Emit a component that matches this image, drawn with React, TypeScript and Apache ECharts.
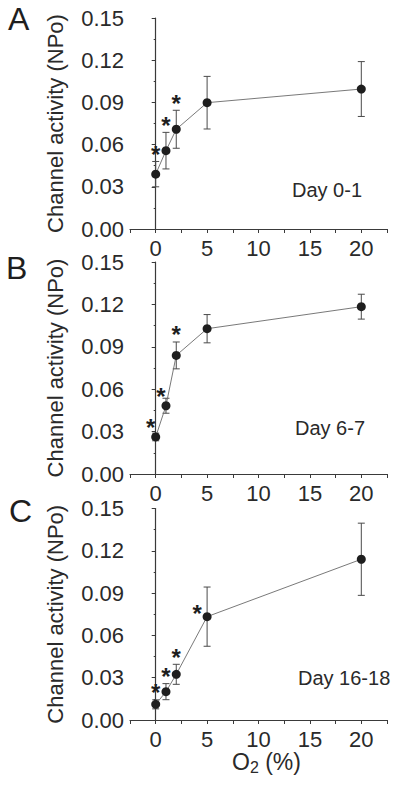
import React, { useEffect, useRef } from "react";
import * as echarts from "echarts";

// ---- data ----
const o2Levels = [0, 1, 2, 5, 20];

const day01Mean = [0.039, 0.0557, 0.0709, 0.0898, 0.0995];
const day01Err = [0.009, 0.013, 0.0135, 0.0187, 0.0195];
const day01Sig = [true, true, true, false, false];

const day67Mean = [0.0262, 0.0483, 0.0839, 0.1028, 0.1184];
const day67Err = [0.0027, 0.0053, 0.0095, 0.01, 0.0088];
const day67Sig = [true, true, true, false, false];

const day1618Mean = [0.0111, 0.0201, 0.0324, 0.0733, 0.114];
const day1618Err = [0.0032, 0.0057, 0.0071, 0.021, 0.0256];
const day1618Sig = [true, true, true, true, false];

const yTicks = [0, 0.03, 0.06, 0.09, 0.12, 0.15];
const xTickLabels = [0, 5, 10, 15, 20];

const panelLetters = ["A", "B", "C"];
const dayLabels = ["Day 0-1", "Day 6-7", "Day 16-18"];
const yAxisTitle = "Channel activity (NPo)";

// ---- layout / style ----
const FONT = "Liberation Sans, Arial, Helvetica, sans-serif";
const grids = [
  { left: 130, top: 18, width: 257, height: 211 },
  { left: 130, top: 262, width: 257, height: 212 },
  { left: 130, top: 508.5, width: 257, height: 211.5 },
];
// star placement per point: 'top' above the error bar, 'upleft' / 'left' beside the marker
const starPlacement = [
  ["top", "top", "top", "", ""],
  ["upleft", "upleft", "top", "", ""],
  ["top", "top", "top", "left", ""],
];
const dayLabelPos = [
  { x: 292, y: 190 },
  { x: 295, y: 428 },
  { x: 298, y: 678 },
];
const letterPos = [
  { x: 8, y: 20 },
  { x: 6, y: 269 },
  { x: 9, y: 512 },
];

const panels = [
  { mean: day01Mean, err: day01Err, sig: day01Sig },
  { mean: day67Mean, err: day67Err, sig: day67Sig },
  { mean: day1618Mean, err: day1618Err, sig: day1618Sig },
];

export default function App() {
  const ref = useRef<HTMLDivElement>(null);

  useEffect(() => {
    if (!ref.current) return;
    const chart = echarts.init(ref.current, null, { renderer: "svg" });

    const xAxes: any[] = [];
    const yAxes: any[] = [];
    const series: any[] = [];

    panels.forEach((p, i) => {
      xAxes.push({
        type: "value",
        gridIndex: i,
        min: -2.5,
        max: 22.5,
        interval: 2.5,
        axisLine: { show: true, onZero: false, lineStyle: { color: "#3a3a3a", width: 1.2 } },
        axisTick: { show: true, length: 4, lineStyle: { color: "#3a3a3a", width: 1 } },
        splitLine: { show: false },
        axisLabel: {
          show: true,
          margin: 8,
          fontFamily: FONT,
          fontSize: 22,
          color: "#2a2a2a",
          formatter: (v: number) =>
            xTickLabels.some((t) => Math.abs(t - v) < 1e-6) ? String(Math.round(v)) : "",
        },
        name: i === 2 ? "{n|O}{s|2}{n| (%)}" : "",
        nameLocation: "middle",
        nameGap: 28,
        nameTextStyle: {
          padding: [0, 0, 0, 16],
          rich: {
            n: { fontFamily: FONT, fontSize: 23, color: "#2a2a2a" },
            s: { fontFamily: FONT, fontSize: 16, color: "#2a2a2a", verticalAlign: "bottom", padding: [10, 0, 0, 0] },
          },
        },
      });
      yAxes.push({
        type: "value",
        gridIndex: i,
        min: yTicks[0],
        max: yTicks[yTicks.length - 1],
        interval: yTicks[1] - yTicks[0],
        axisLine: { show: true, lineStyle: { color: "#3a3a3a", width: 1.2 } },
        axisTick: { show: true, length: 4, lineStyle: { color: "#3a3a3a", width: 1 } },
        minorTick: { show: true, splitNumber: 2, length: 2, lineStyle: { color: "#3a3a3a", width: 1 } },
        splitLine: { show: false },
        axisLabel: {
          margin: 6,
          fontFamily: FONT,
          fontSize: 22,
          color: "#2a2a2a",
          formatter: (v: number) => v.toFixed(2),
        },
        name: yAxisTitle,
        nameLocation: "middle",
        nameGap: 64,
        nameTextStyle: { fontFamily: FONT, fontSize: 22, color: "#2a2a2a" },
      });

      const errData = o2Levels.map((x, k) => [x, p.mean[k] - p.err[k], p.mean[k] + p.err[k]]);
      series.push({
        type: "custom",
        xAxisIndex: i,
        yAxisIndex: i,
        z: 1,
        encode: { x: 0, y: [1, 2] },
        data: errData,
        renderItem: (params: any, api: any) => {
          const x = api.value(0);
          const lo = api.coord([x, api.value(1)]);
          const hi = api.coord([x, api.value(2)]);
          const w = 3.5;
          const st = { stroke: "#4a4a4a", lineWidth: 1 };
          return {
            type: "group",
            children: [
              { type: "line", shape: { x1: hi[0], y1: hi[1], x2: lo[0], y2: lo[1] }, style: st },
              { type: "line", shape: { x1: hi[0] - w, y1: hi[1], x2: hi[0] + w, y2: hi[1] }, style: st },
              { type: "line", shape: { x1: lo[0] - w, y1: lo[1], x2: lo[0] + w, y2: lo[1] }, style: st },
            ],
          };
        },
      });

      series.push({
        type: "line",
        xAxisIndex: i,
        yAxisIndex: i,
        z: 3,
        data: o2Levels.map((x, k) => [x, p.mean[k]]),
        symbol: "circle",
        symbolSize: 9,
        itemStyle: { color: "#1e1e1e" },
        lineStyle: { color: "#6a6a6a", width: 0.9 },
      });

      const starData = o2Levels
        .map((x, k) => (p.sig[k] ? [x, p.mean[k] + p.err[k], p.mean[k], k] : null))
        .filter((d) => d !== null);
      series.push({
        type: "custom",
        xAxisIndex: i,
        yAxisIndex: i,
        z: 4,
        clip: false,
        encode: { x: 0, y: 1 },
        data: starData,
        renderItem: (params: any, api: any) => {
          const x = api.value(0);
          const k = api.value(3);
          const top = api.coord([x, api.value(1)]);
          const pt = api.coord([x, api.value(2)]);
          const place = starPlacement[i][k];
          let cx = top[0];
          let cy = top[1] - 10;
          if (place === "upleft") {
            cx = pt[0] - 5;
            cy = pt[1] - 12;
          } else if (place === "left") {
            cx = pt[0] - 10;
            cy = pt[1] - 6;
          }
          return {
            type: "text",
            x: cx,
            y: cy + 3,
            style: {
              text: "*",
              font: `bold 24px ${FONT}`,
              fill: "#1e1e1e",
              textAlign: "center",
              textVerticalAlign: "middle",
            },
          };
        },
      });
    });

    const graphics: any[] = [];
    panelLetters.forEach((L, i) => {
      graphics.push({
        type: "text",
        left: letterPos[i].x,
        top: letterPos[i].y - 17,
        style: { text: L, font: `32px ${FONT}`, fill: "#1e1e1e" },
      });
      graphics.push({
        type: "text",
        x: dayLabelPos[i].x,
        y: dayLabelPos[i].y,
        style: {
          text: dayLabels[i],
          font: `20px ${FONT}`,
          fill: "#2a2a2a",
          textAlign: "left",
          textVerticalAlign: "middle",
        },
      });
    });

    chart.setOption({
      animation: false,
      backgroundColor: "#ffffff",
      grid: grids,
      xAxis: xAxes,
      yAxis: yAxes,
      series,
      graphic: graphics,
    });

    return () => chart.dispose();
  }, []);

  return (
    <div
      ref={ref}
      style={{ position: "fixed", left: 0, top: 0, width: 400, height: 785, background: "#fff" }}
    />
  );
}
